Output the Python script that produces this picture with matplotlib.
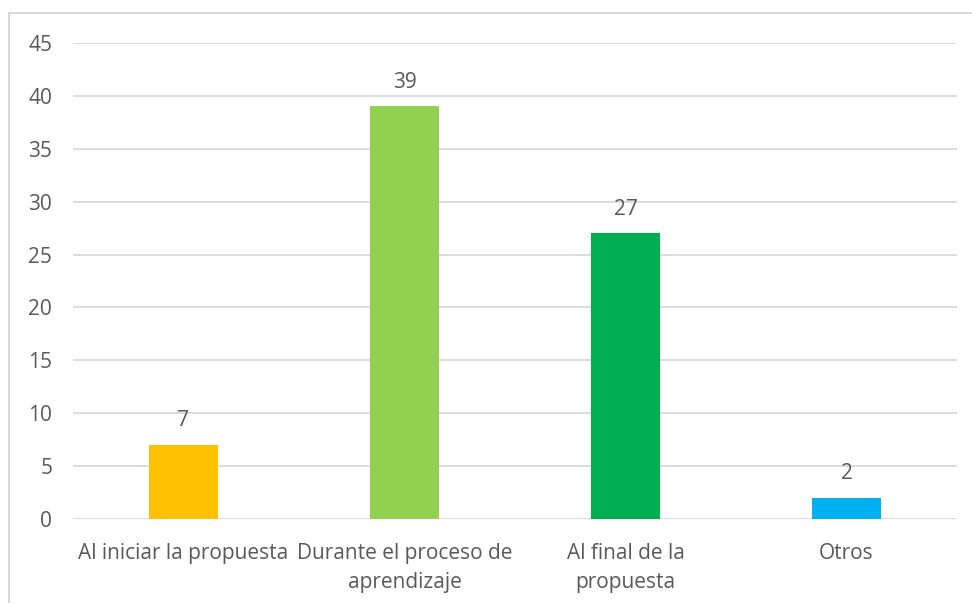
import matplotlib.pyplot as plt
from matplotlib.patches import Rectangle

# Data
categories = ['Al iniciar la propuesta', 'Durante el proceso de\naprendizaje',
              'Al final de la\npropuesta', 'Otros']
values = [7, 39, 27, 2]
colors = ['#FFC000', '#92D050', '#00B050', '#00B0F0']
yticks = [0, 5, 10, 15, 20, 25, 30, 35, 40, 45]

plt.rcParams['font.family'] = ['Open Sans', 'DejaVu Sans']
text_color = '#595959'

fig = plt.figure(figsize=(9.72, 6.03), dpi=100)
ax = fig.add_axes([73 / 972, 1 - 519 / 603, (957 - 73) / 972, (519 - 43) / 603])

# chart frame (only left/top visible in the crop)
fig.patches.append(Rectangle((9 / 972, -0.1), 1.2, 1 - 13 / 603 + 0.1,
                             transform=fig.transFigure, fill=False,
                             edgecolor='#D9D9D9', linewidth=1.5))

x = range(len(categories))
bars = ax.bar(x, values, width=0.315, color=colors, zorder=3)
for xi, v in zip(x, values):
    ax.text(xi, v + 1.3, str(v), ha='center', va='bottom', fontsize=15, color=text_color)

ax.set_xlim(-0.5, len(categories) - 0.5)
ax.set_ylim(0, 45)
ax.set_yticks(yticks)
ax.set_xticks(list(x))
ax.set_xticklabels(categories, fontsize=15, color=text_color, linespacing=1.55)
ax.tick_params(axis='y', labelsize=15, labelcolor=text_color, length=0, pad=15)
ax.tick_params(axis='x', length=0, pad=17)
ax.yaxis.grid(True, color='#D9D9D9', linewidth=1.3, zorder=0)
for s in ax.spines.values():
    s.set_visible(False)

fig.savefig('out.png', dpi=100)
